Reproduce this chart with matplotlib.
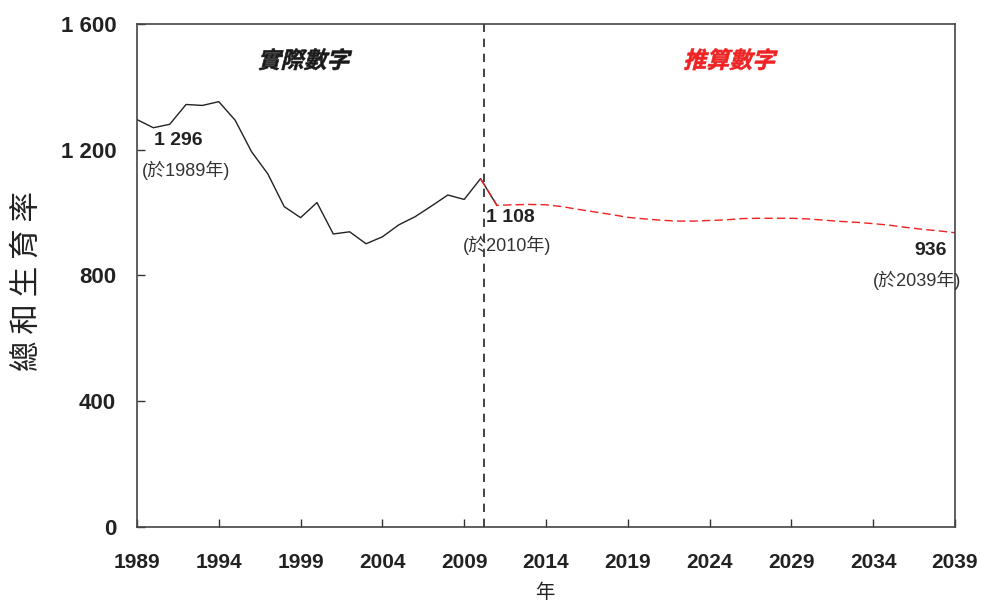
import numpy as np
import matplotlib.pyplot as plt
from matplotlib.textpath import TextPath
from matplotlib.patches import PathPatch
from matplotlib.font_manager import FontProperties
from matplotlib.transforms import Affine2D

plt.rcParams['font.family'] = ['Liberation Sans', 'Noto Sans CJK TC', 'DejaVu Sans']

# actual total fertility rate (per 1 000 women)
years_actual = list(range(1989, 2012))
tfr_actual = [1296, 1270, 1281, 1344, 1341, 1353, 1294, 1194, 1123, 1019,
              984, 1032, 932, 939, 901, 923, 961, 987, 1021, 1056,
              1042, 1108, 1023]

# projected
years_proj = list(range(2010, 2040))
tfr_proj = [1108, 1023, 1025, 1026, 1025, 1019, 1010, 1002, 994, 985,
            980, 976, 973, 973, 975, 977, 981, 982, 982, 982,
            980, 976, 972, 969, 965, 960, 953, 947, 942, 936]

xticks = list(range(1989, 2040, 5))
yticks = [0, 400, 800, 1200, 1600]
ytick_labels = ['0', '400', '800', '1 200', '1 600']

DPI = 100
fig = plt.figure(figsize=(9.82, 6.05), dpi=DPI)
ax = fig.add_axes([0.1395, 0.129, 0.833, 0.8313])

ax.plot(years_actual, tfr_actual, color='#222222', lw=1.0)
ax.plot(years_proj, tfr_proj, color='#ee2222', lw=1.0, ls=(0, (6, 3)))
ax.axvline(2010.2, color='#222222', lw=1.2, ls=(0, (5, 4)))

ax.set_xlim(1989, 2039)
ax.set_ylim(0, 1600)
ax.set_xticks(xticks)
ax.set_yticks(yticks)
ax.set_yticklabels(ytick_labels)
ax.tick_params(direction='in', length=6, width=1, color='#333333',
               labelsize=15, labelcolor='#222222')
ax.tick_params(axis='x', pad=19)
ax.tick_params(axis='y', pad=15, labelsize=16)
for lab in ax.get_xticklabels() + ax.get_yticklabels():
    lab.set_fontweight('bold')
for s in ax.spines.values():
    s.set_color('#444444')
    s.set_linewidth(1.2)

# annotations
ax.text(1991.5, 1231, '1 296', ha='center', va='center', fontsize=14,
        fontweight='bold', color='#222222')
ax.text(1992.0, 1135, '(於1989年)', ha='center', va='center', fontsize=13,
        color='#333333')
ax.text(2011.8, 983, '1 108', ha='center', va='center', fontsize=14,
        fontweight='bold', color='#222222')
ax.text(2011.6, 897, '(於2010年)', ha='center', va='center', fontsize=13,
        color='#333333')
ax.text(2037.5, 881, '936', ha='center', va='center', fontsize=14,
        fontweight='bold', color='#222222')
ax.text(2036.7, 786, '(於2039年)', ha='center', va='center', fontsize=13,
        color='#333333', clip_on=False)


# slanted (italic-like) CJK headers drawn as text paths
def slanted_text(x, y, s, color, size_pt=16.5, skew=14):
    fp = FontProperties(family='Noto Sans CJK TC', weight='bold')
    tp = TextPath((0, 0), s, size=size_pt * DPI / 72, prop=fp)
    bb = tp.get_extents()
    px, py = ax.transData.transform((x, y))
    tr = (Affine2D().translate(-(bb.x0 + bb.x1) / 2, -(bb.y0 + bb.y1) / 2)
          .skew_deg(skew, 0).translate(px, py))
    fig.add_artist(PathPatch(tp, transform=tr, facecolor=color,
                             edgecolor=color, lw=0.4))


slanted_text(1999.3, 1488, '實際數字', '#1a1a1a')
slanted_text(2025.3, 1488, '推算數字', '#ee2222')

fig.text(27 / 982, 1 - 281 / 605, '總 和 生 育 率', rotation=90, ha='center',
         va='center', fontsize=22, color='#222222', family='Noto Sans CJK TC')
fig.text(545 / 982, 1 - 592 / 605, '年', ha='center', va='center',
         fontsize=14, color='#222222', family='Noto Sans CJK TC')

fig.savefig('out.png', dpi=DPI)
